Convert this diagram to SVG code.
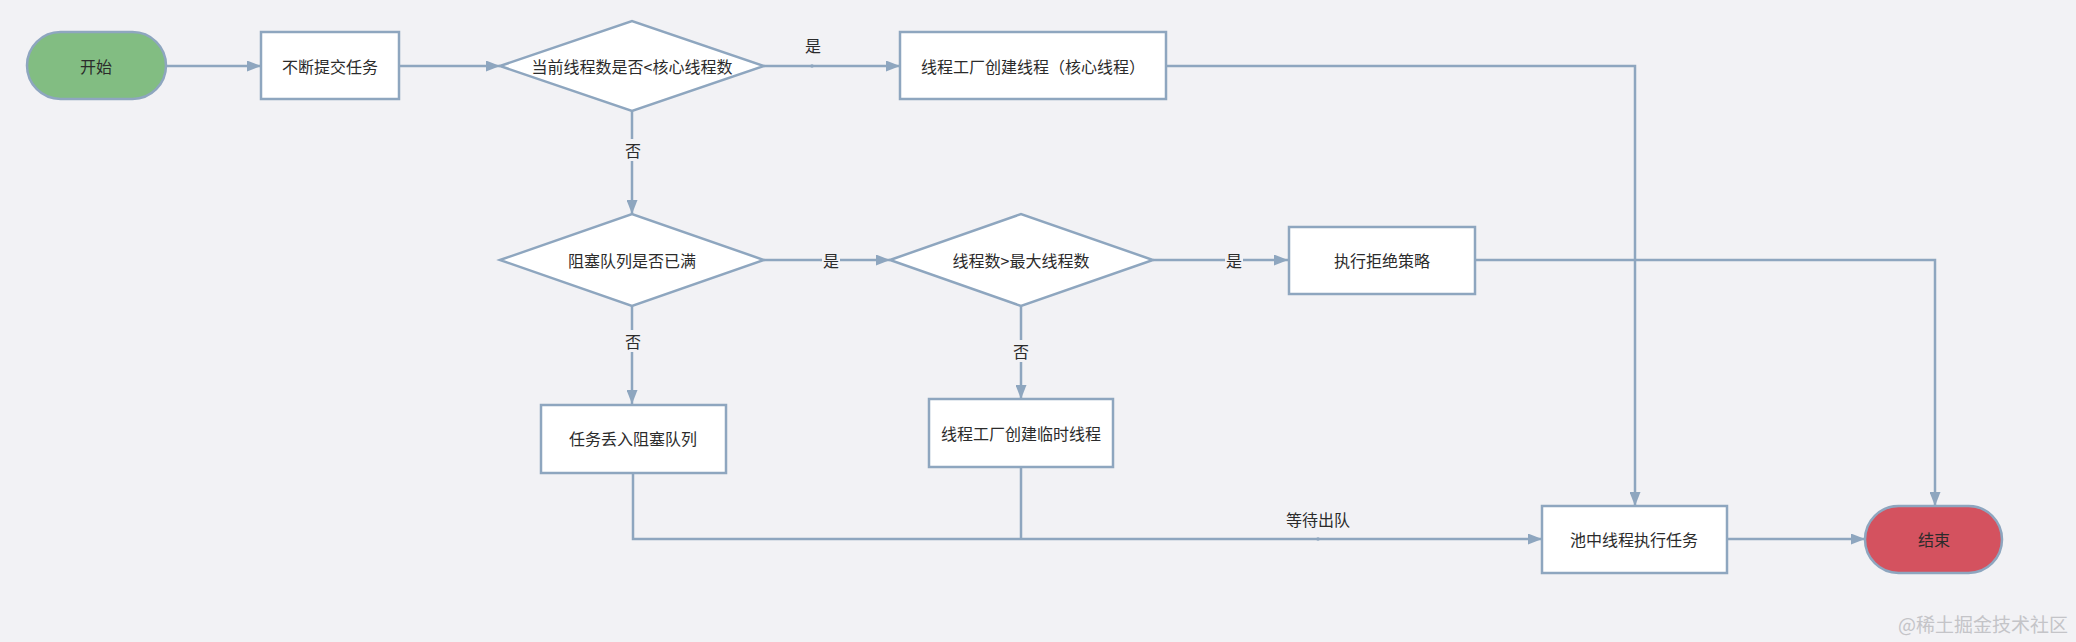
<svg xmlns="http://www.w3.org/2000/svg" width="2076" height="642" viewBox="0 0 2076 642">
<defs>
<marker id="arr" markerUnits="userSpaceOnUse" markerWidth="14" markerHeight="11" refX="14" refY="5.5" orient="auto">
<path d="M0,0 L14,5.5 L0,11 z" fill="#8ea6bf"/>
</marker>
<style>
.bg{fill:#f2f2f5}
.box{fill:#ffffff;stroke:#8ea6bf;stroke-width:2.5}
.line{fill:none;stroke:#8ea6bf;stroke-width:2.5}
.t{font-family:"Noto Sans CJK SC","Liberation Sans",sans-serif;font-size:16px;fill:#2b2b2b;text-anchor:middle;dominant-baseline:central}
.lb{fill:#f2f2f5}
.wm{font-family:"Noto Sans CJK SC","Liberation Sans",sans-serif;font-size:19px;fill:#c4c4c8;text-anchor:end}
</style>
</defs>
<rect class="bg" x="0" y="0" width="2076" height="642"/>

<g id="connectors">
<path class="line" d="M166,66 L261,66" marker-end="url(#arr)"/>
<path class="line" d="M399,66 L500,66" marker-end="url(#arr)"/>
<path class="line" d="M764,66 L900,66" marker-end="url(#arr)"/>
<circle cx="812" cy="66" r="1.8" fill="#8ea6bf"/>
<text class="t" x="813" y="45">是</text>
<path class="line" d="M1166,66 L1635,66 L1635,506" marker-end="url(#arr)"/>
<path class="line" d="M632,111 L632,214" marker-end="url(#arr)"/>
<rect class="lb" x="622" y="139" width="20" height="22"/>
<text class="t" x="633" y="150">否</text>
<path class="line" d="M764,260 L890,260" marker-end="url(#arr)"/>
<rect class="lb" x="822" y="250" width="18" height="20"/>
<text class="t" x="831" y="260">是</text>
<path class="line" d="M632,306 L632,404" marker-end="url(#arr)"/>
<rect class="lb" x="622" y="330" width="20" height="22"/>
<text class="t" x="633" y="341">否</text>
<path class="line" d="M1153,260 L1288,260" marker-end="url(#arr)"/>
<rect class="lb" x="1225" y="250" width="18" height="20"/>
<text class="t" x="1234" y="260">是</text>
<path class="line" d="M1021,306 L1021,399" marker-end="url(#arr)"/>
<rect class="lb" x="1011" y="340" width="20" height="22"/>
<text class="t" x="1021" y="351">否</text>
<path class="line" d="M1475,260 L1935,260 L1935,506" marker-end="url(#arr)"/>
<path class="line" d="M633,473 L633,539 L1542,539" marker-end="url(#arr)"/>
<path class="line" d="M1021,467 L1021,539"/>
<circle cx="1318" cy="539" r="1.8" fill="#8ea6bf"/>
<text class="t" x="1318" y="519">等待出队</text>
<path class="line" d="M1727,539 L1865,539" marker-end="url(#arr)"/>
</g>

<g id="start">
<rect x="27" y="32" width="139" height="67" rx="33.5" fill="#82bd82" stroke="#8ea6bf" stroke-width="2.5"/>
<text class="t" x="96" y="66">开始</text>
</g>
<g id="submit">
<rect class="box" x="261" y="32" width="138" height="67"/>
<text class="t" x="330" y="66">不断提交任务</text>
</g>
<g id="check-core">
<polygon class="box" points="500,66 632,21 764,66 632,111"/>
<text class="t" x="632" y="66">当前线程数是否&lt;核心线程数</text>
</g>
<g id="create-core">
<rect class="box" x="900" y="32" width="266" height="67"/>
<text class="t" x="1033" y="66">线程工厂创建线程（核心线程）</text>
</g>
<g id="check-queue">
<polygon class="box" points="500,260 632,214 764,260 632,306"/>
<text class="t" x="632" y="260">阻塞队列是否已满</text>
</g>
<g id="check-max">
<polygon class="box" points="890,260 1021,214 1153,260 1021,306"/>
<text class="t" x="1021" y="260">线程数&gt;最大线程数</text>
</g>
<g id="reject">
<rect class="box" x="1289" y="227" width="186" height="67"/>
<text class="t" x="1382" y="260">执行拒绝策略</text>
</g>
<g id="enqueue">
<rect class="box" x="541" y="405" width="185" height="68"/>
<text class="t" x="633" y="438">任务丢入阻塞队列</text>
</g>
<g id="create-temp">
<rect class="box" x="929" y="399" width="184" height="68"/>
<text class="t" x="1021" y="433">线程工厂创建临时线程</text>
</g>
<g id="execute">
<rect class="box" x="1542" y="506" width="185" height="67"/>
<text class="t" x="1634" y="539">池中线程执行任务</text>
</g>
<g id="end">
<rect x="1865" y="506" width="137" height="67" rx="33.5" fill="#d4525f" stroke="#8ea6bf" stroke-width="2.5"/>
<text class="t" x="1934" y="539">结束</text>
</g>
<text class="wm" x="2068" y="632">@稀土掘金技术社区</text>
</svg>
